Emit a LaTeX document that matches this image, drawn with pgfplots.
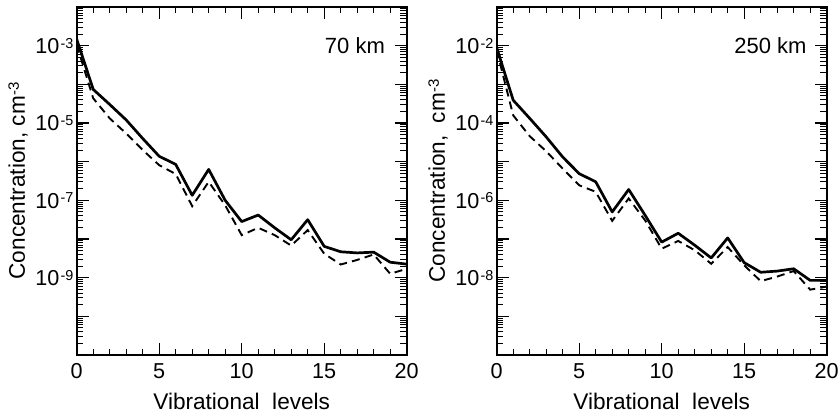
\documentclass[border=0pt]{standalone}
\usepackage{fontspec}
\setmainfont{Liberation Sans}
\usepackage{pgfplots}
\pgfplotsset{compat=1.18}
\newcommand{\fs}{\fontsize{10.8}{12.6}\selectfont}
\newcommand{\fl}{\fontsize{11.3}{13.5}\selectfont}
\newcommand{\te}[1]{10\kern0.6pt\raisebox{2.6pt}{\fontsize{7.2}{8}\selectfont#1}}
\pgfplotsset{
  myax/.style={
    scale only axis, width=165pt, height=174pt,
    xmin=0, xmax=20,
    xtick={0,5,10,15,20}, xticklabels={0,5,10,15,20},
    minor xtick={1,2,3,4,6,7,8,9,11,12,13,14,16,17,18,19},
    tick align=inside, xtick pos=both, ytick pos=both,
    major tick length=6pt, minor tick length=3.2pt,
    axis line style={line width=1pt},
    every tick/.style={black, line width=0.6pt},
    every minor tick/.style={black, line width=0.5pt},
    tick label style={font=\fs},
    label style={font=\fl},
    xticklabel style={anchor=base, yshift=-11.6pt},
    yticklabel style={anchor=base east, yshift=-3.85pt, inner xsep=1.4pt},
    ylabel style={at={(axis description cs:-0.157,0.5)}, anchor=base},
    xlabel style={at={(axis description cs:0.5,-0.158)}, anchor=base},
    xlabel={Vibrational\ \ levels},
  },
  sol/.style={black, line width=1.35pt, line join=round},
  das/.style={black, line width=0.95pt, dash pattern=on 4pt off 2.6pt},
}
\begin{document}
\begin{tikzpicture}
\begin{semilogyaxis}[myax, name=ax1,
  ymin=1e-11, ymax=1e-2,
  ytick={1e-11,1e-10,1e-9,1e-8,1e-7,1e-6,1e-5,1e-4,1e-3,1e-2},
  yticklabels={,,\te{-9},,\te{-7},,\te{-5},,\te{-3},},
  minor ytick={2e-11,3e-11,4e-11,5e-11,6e-11,7e-11,8e-11,9e-11,
    2e-10,3e-10,4e-10,5e-10,6e-10,7e-10,8e-10,9e-10,
    2e-9,3e-9,4e-9,5e-9,6e-9,7e-9,8e-9,9e-9,
    2e-8,3e-8,4e-8,5e-8,6e-8,7e-8,8e-8,9e-8,
    2e-7,3e-7,4e-7,5e-7,6e-7,7e-7,8e-7,9e-7,
    2e-6,3e-6,4e-6,5e-6,6e-6,7e-6,8e-6,9e-6,
    2e-5,3e-5,4e-5,5e-5,6e-5,7e-5,8e-5,9e-5,
    2e-4,3e-4,4e-4,5e-4,6e-4,7e-4,8e-4,9e-4,
    2e-3,3e-3,4e-3,5e-3,6e-3,7e-3,8e-3,9e-3},
  ylabel={Concentration, cm\raisebox{3pt}{\fontsize{7.5}{8}\selectfont -3}},
]
\addplot[sol] coordinates {
(0,1.48e-3) (1,7.41e-5) (2,3.02e-5) (3,1.20e-5) (4,3.98e-6) (5,1.38e-6)
(6,8.51e-7) (7,1.35e-7) (8,6.31e-7) (9,1.00e-7) (10,2.82e-8) (11,4.17e-8)
(12,1.95e-8) (13,9.55e-9) (14,3.16e-8) (15,6.46e-9) (16,4.68e-9) (17,4.37e-9)
(18,4.57e-9) (19,2.51e-9) (20,2.24e-9)};
\addplot[das] coordinates {
(0,1.05e-3) (1,4.37e-5) (2,1.32e-5) (3,5.37e-6) (4,2.00e-6) (5,8.13e-7)
(6,4.79e-7) (7,7.08e-8) (8,3.02e-7) (9,7.41e-8) (10,1.26e-8) (11,1.95e-8)
(12,1.26e-8) (13,6.76e-9) (14,1.70e-8) (15,4.17e-9) (16,2.19e-9) (17,2.88e-9)
(18,3.98e-9) (19,1.26e-9) (20,1.70e-9)};
\node[anchor=east, font=\fontsize{11}{13}\selectfont, inner sep=0pt] at (axis cs:18.7,1e-3) {70 km};
\end{semilogyaxis}
\begin{semilogyaxis}[myax, name=ax2, at={(ax1.south west)}, anchor=south west, xshift=210pt,
  ymin=1e-10, ymax=1e-1,
  ytick={1e-10,1e-9,1e-8,1e-7,1e-6,1e-5,1e-4,1e-3,1e-2,1e-1},
  yticklabels={,,\te{-8},,\te{-6},,\te{-4},,\te{-2},},
  minor ytick={2e-10,3e-10,4e-10,5e-10,6e-10,7e-10,8e-10,9e-10,
    2e-9,3e-9,4e-9,5e-9,6e-9,7e-9,8e-9,9e-9,
    2e-8,3e-8,4e-8,5e-8,6e-8,7e-8,8e-8,9e-8,
    2e-7,3e-7,4e-7,5e-7,6e-7,7e-7,8e-7,9e-7,
    2e-6,3e-6,4e-6,5e-6,6e-6,7e-6,8e-6,9e-6,
    2e-5,3e-5,4e-5,5e-5,6e-5,7e-5,8e-5,9e-5,
    2e-4,3e-4,4e-4,5e-4,6e-4,7e-4,8e-4,9e-4,
    2e-3,3e-3,4e-3,5e-3,6e-3,7e-3,8e-3,9e-3,
    2e-2,3e-2,4e-2,5e-2,6e-2,7e-2,8e-2,9e-2},
  ylabel={Concentration,\ \ cm\raisebox{3pt}{\fontsize{7.5}{8}\selectfont -3}},
]
\addplot[sol] coordinates {
(0,8.91e-3) (1,3.89e-4) (2,1.32e-4) (3,4.37e-5) (4,1.32e-5) (5,4.90e-6)
(6,3.02e-6) (7,5.01e-7) (8,1.91e-6) (9,4.07e-7) (10,8.32e-8) (11,1.41e-7)
(12,6.92e-8) (13,3.24e-8) (14,1.07e-7) (15,2.45e-8) (16,1.38e-8) (17,1.48e-8)
(18,1.70e-8) (19,8.51e-9) (20,8.51e-9)};
\addplot[das] coordinates {
(0,7.59e-3) (1,1.58e-4) (2,4.57e-5) (3,1.86e-5) (4,6.61e-6) (5,2.45e-6)
(6,1.66e-6) (7,2.95e-7) (8,1.12e-6) (9,3.02e-7) (10,5.62e-8) (11,8.91e-8)
(12,5.13e-8) (13,2.29e-8) (14,6.17e-8) (15,2.09e-8) (16,8.13e-9) (17,1.07e-8)
(18,1.48e-8) (19,4.90e-9) (20,5.89e-9)};
\node[anchor=east, font=\fontsize{11}{13}\selectfont, inner sep=0pt] at (axis cs:18.8,1e-2) {250 km};
\end{semilogyaxis}
\pgfresetboundingbox
\path[use as bounding box] (ax1.south west) ++(-38.35pt,-32pt) rectangle ++(420pt,209.5pt);
\end{tikzpicture}
\end{document}
